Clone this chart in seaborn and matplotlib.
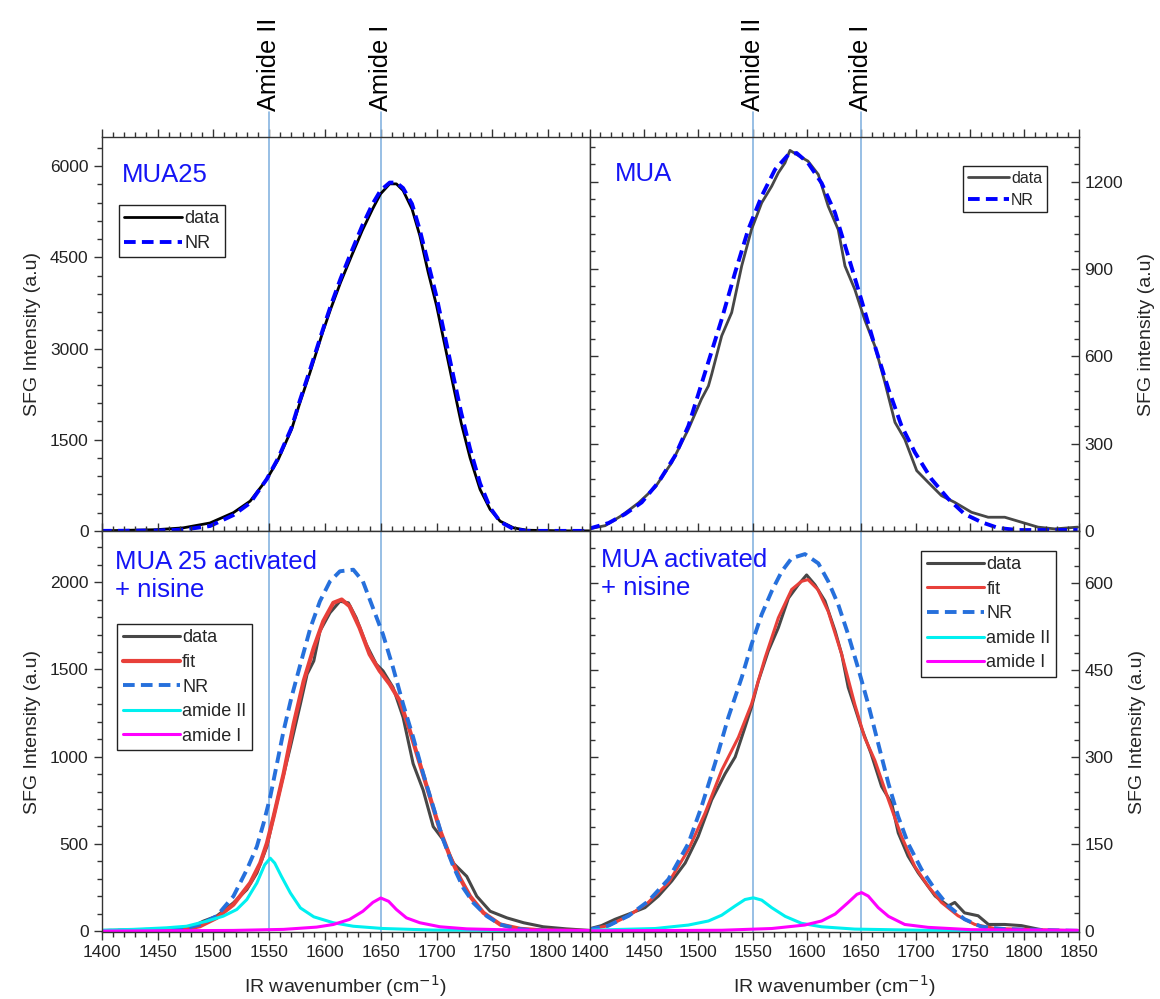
import pandas as pd
import seaborn as sns
import matplotlib.pyplot as plt
from matplotlib.ticker import MultipleLocator
import matplotlib.transforms as mtransforms

sns.set_style("ticks")
plt.rcParams['font.family'] = ['Liberation Sans', 'DejaVu Sans']

# ---- MUA25 (top left) ----
tl_data_x = [1398.5, 1449, 1473, 1497, 1518, 1533, 1547.8, 1558.2, 1570.1, 1577.6, 1586.6, 1597.9, 1605.1,
             1614, 1623.9, 1633.4, 1642.7, 1649.8, 1658, 1664, 1670, 1678, 1685, 1692.5, 1700, 1707.5,
             1715, 1722, 1730, 1739, 1748, 1757, 1769, 1781, 1816, 1837]
tl_data_y = [0, 20, 50, 130, 300, 490, 846, 1176, 1670, 2110, 2605, 3264, 3649,
             4088, 4528, 4940, 5297, 5544, 5709, 5709, 5600, 5297, 4858, 4253, 3704, 3044,
             2385, 1780, 1203, 681, 352, 159, 50, 11, 0, 0]
tl_nr_x = [1398.5, 1449, 1473, 1497, 1518, 1533, 1547.8, 1558.2, 1570.1, 1577.6, 1586.6, 1597.9, 1605.1,
           1614, 1623.9, 1633.4, 1642.7, 1649.8, 1658, 1664, 1670, 1678, 1685, 1692.5, 1700, 1707.5,
           1715, 1722, 1730, 1739, 1748, 1757, 1769, 1781, 1816, 1837]
tl_nr_y = [0, 5, 20, 80, 260, 460, 850, 1200, 1700, 2150, 2650, 3300, 3700,
           4150, 4600, 5020, 5380, 5600, 5730, 5730, 5640, 5380, 4950, 4400, 3850, 3200,
           2550, 1950, 1350, 780, 380, 150, 30, 0, 0, 0]

# ---- MUA (top right) ----
tr_data_x = [1399, 1414.4, 1429.7, 1445, 1460.4, 1475.7, 1491, 1503, 1509.4, 1512.4, 1521.6, 1530.8, 1540,
             1549, 1558.4, 1567.6, 1573.7, 1579.8, 1584.4, 1590.5, 1601, 1610.5, 1619.6, 1628.8, 1635,
             1644, 1653, 1662.5, 1671.7, 1681, 1690, 1701, 1711.5, 1723.8, 1736, 1751.4, 1766.7, 1782,
             1797.3, 1812.6, 1828, 1849]
tr_data_y = [7, 18, 53, 96, 150, 235, 350, 453, 498, 538, 670, 750, 910,
             1035, 1127, 1184, 1230, 1264, 1307, 1293, 1270, 1224, 1115, 1035, 910,
             830, 727, 635, 510, 373, 315, 207, 167, 121, 98, 64, 47, 47,
             30, 13, 7, 13]
tr_nr_x = [1399, 1417.5, 1432.8, 1448, 1463.4, 1478.7, 1491, 1506.3, 1521.6, 1533.9, 1546, 1558.4, 1570.6,
           1583, 1590.5, 1601, 1613.5, 1625.8, 1638, 1650, 1662.5, 1675, 1687, 1699.3, 1714.6, 1730,
           1745, 1760.6, 1776, 1794, 1849]
tr_nr_y = [7, 27, 58, 98, 167, 258, 361, 544, 727, 887, 1035, 1150, 1241,
           1293, 1298, 1264, 1195, 1093, 944, 795, 635, 487, 361, 270, 178, 110,
           58, 30, 10, 3, 3]

# ---- MUA 25 activated + nisine (bottom left) ----
bl_data_x = [1398.5, 1473, 1482, 1491, 1503, 1518, 1530, 1539, 1548, 1554, 1561, 1569, 1578, 1584, 1590,
             1595.5, 1604.5, 1613.4, 1621, 1628, 1637, 1646, 1652, 1661, 1670, 1679, 1688, 1697, 1706,
             1715, 1727, 1736, 1748, 1763, 1778, 1795.5, 1816, 1837]
bl_data_y = [0, 5, 28, 57, 86, 162, 238, 333, 485, 656, 846, 1055, 1302, 1473, 1549,
             1720, 1825, 1891, 1882, 1796, 1644, 1530, 1492, 1397, 1226, 960, 808, 599, 523,
             390, 314, 200, 114, 76, 48, 25, 13, 4]
bl_fit_x = [1398.5, 1473, 1488, 1503, 1518, 1533, 1542, 1548, 1554, 1563, 1572, 1581, 1590, 1598.5,
            1607.5, 1615, 1622, 1631, 1640, 1649, 1658, 1667, 1676, 1685, 1694, 1703, 1712, 1721,
            1730, 1742, 1757, 1775, 1795.5, 1837]
bl_fit_y = [0, 10, 28, 76, 152, 276, 390, 504, 656, 903, 1188, 1435, 1625, 1777,
            1882, 1901, 1863, 1739, 1587, 1492, 1416, 1321, 1150, 960, 770, 580, 428, 304,
            200, 105, 38, 13, 4, 0]
bl_nr_x = [1398.5, 1473, 1488, 1503, 1518, 1530, 1539, 1545, 1551, 1557, 1563, 1570, 1578, 1587,
           1595.5, 1604.5, 1613.4, 1625.4, 1634, 1643, 1652, 1661, 1670, 1679, 1688, 1697, 1706,
           1715, 1724, 1733, 1745, 1757, 1772, 1787, 1837]
bl_nr_y = [0, 13, 38, 86, 200, 352, 485, 618, 770, 960, 1150, 1340, 1530, 1739,
           1891, 2005, 2063, 2072, 2005, 1853, 1701, 1511, 1302, 1112, 903, 713, 523,
           371, 247, 162, 86, 38, 13, 4, 0]
bl_am2_x = [1398.5, 1428, 1458, 1476, 1494, 1509, 1521, 1530, 1539, 1546, 1551, 1555, 1561, 1569,
            1578, 1590, 1607.5, 1625.4, 1652, 1697, 1837]
bl_am2_y = [5, 10, 19, 28, 57, 86, 124, 181, 276, 380, 418, 390, 314, 219,
            133, 82, 48, 28, 15, 6, 2]
bl_am1_x = [1398.5, 1518, 1563, 1592.5, 1607.5, 1622, 1634, 1643, 1650, 1657, 1664, 1673, 1685,
            1703, 1727, 1772, 1837]
bl_am1_y = [0, 4, 10, 23, 38, 67, 114, 165, 190, 171, 124, 76, 48,
            25, 13, 6, 4]

# ---- MUA activated + nisine (bottom right) ----
br_data_x = [1399, 1411, 1423.6, 1439, 1451, 1463.4, 1475.7, 1488, 1500, 1512.4, 1524.7, 1534, 1543,
             1549, 1555.3, 1564.5, 1573.7, 1583, 1592, 1599.7, 1607.4, 1616.6, 1626, 1632, 1638, 1644,
             1650, 1659, 1668.7, 1678, 1684, 1693, 1702.4, 1718, 1730, 1736, 1745, 1757.5, 1767, 1782,
             1797.3, 1812.6, 1816]
br_data_y = [3, 9, 20, 31, 40, 60, 86, 117, 163, 226, 271, 300, 351,
             386, 431, 483, 523, 574, 597, 614, 597, 569, 517, 477, 420, 386,
             351, 306, 249, 220, 169, 129, 100, 60, 43, 49, 31, 26, 11, 11,
             9, 3, 2]
br_fit_x = [1399, 1417.5, 1436, 1454, 1472.6, 1491, 1506.3, 1521.6, 1537, 1549, 1561.5, 1573.7, 1586,
            1595, 1601, 1610, 1619.6, 1632, 1644, 1653, 1662.5, 1675, 1687, 1699.3, 1711.5, 1723.8,
            1739, 1754.4, 1773, 1849]
br_fit_y = [2, 9, 26, 49, 83, 140, 203, 277, 334, 391, 471, 540, 589,
            603, 606, 589, 551, 477, 391, 334, 294, 226, 163, 111, 77, 49,
            26, 11, 4, 0]
br_nr_x = [1399, 1417.5, 1436, 1454, 1472.6, 1491, 1503, 1515.5, 1527.8, 1540, 1549, 1558.4, 1567.6,
           1576.8, 1586, 1598.2, 1610.5, 1619.6, 1628.8, 1638, 1647, 1656.4, 1665.6, 1675, 1684, 1693,
           1705.4, 1718, 1730, 1745, 1760.6, 1782, 1849]
br_nr_y = [2, 9, 26, 51, 89, 151, 214, 289, 369, 437, 494, 546, 586,
           620, 643, 650, 634, 603, 563, 511, 454, 391, 323, 254, 197, 151,
           106, 71, 43, 20, 7, 3, 0]
br_am2_x = [1399, 1460.4, 1491, 1509.4, 1521.6, 1534, 1543, 1550.7, 1558.4, 1567.6, 1580, 1595, 1613.5,
            1644, 1705.4, 1849]
br_am2_y = [1, 4, 10, 17, 27, 43, 54, 57, 53, 40, 25, 13, 7,
            3, 1, 0]
br_am1_x = [1399, 1521.6, 1567.6, 1598, 1613.5, 1626, 1638, 1646, 1650.3, 1656.4, 1665.6, 1675, 1690,
            1711.5, 1751, 1849]
br_am1_y = [0, 1, 4, 10, 17, 29, 49, 63, 66, 60, 40, 25, 11,
            6, 2, 1]

amide_pos = [1550, 1650]
amide_names = ["Amide II", "Amide I"]

BLUE_TXT = "#1515f5"
GRAY = "#474747"
NR_TOP = "#0000ff"
NR_BOT = "#2670dc"
RED = "#e8403a"
CYAN = "#00f0f0"
MAGENTA = "#ff00ff"
VLINE = "#86b4e0"

fig = plt.figure(figsize=(11.6, 9.99), dpi=100)
lw_, rw_ = 0.42052, 0.42172
ax_tl = fig.add_axes([0.08767, 0.46797, lw_, 0.39489])
ax_tr = fig.add_axes([0.50819, 0.46797, rw_, 0.39489])
ax_bl = fig.add_axes([0.08767, 0.06707, lw_, 0.40090])
ax_br = fig.add_axes([0.50819, 0.06707, rw_, 0.40090])


def curve(ax, x, y, color, lw, label, dashed=False):
    df = pd.DataFrame({"x": x, "y": y})
    sns.lineplot(data=df, x="x", y="y", ax=ax, color=color, linewidth=lw, label=label,
                 sort=False, estimator=None)
    if dashed:
        ax.lines[-1].set_dashes((3.0, 1.6))


# vertical amide lines (drawn first, behind curves)
for ax in (ax_tl, ax_tr, ax_bl, ax_br):
    for p in amide_pos:
        ax.axvline(p, color=VLINE, lw=1.2, zorder=0)
for ax in (ax_tl, ax_tr):
    trans = mtransforms.blended_transform_factory(ax.transData, ax.transAxes)
    for p, name in zip(amide_pos, amide_names):
        ax.plot([p, p], [1.0, 1.063], transform=trans, color=VLINE, lw=1.2, clip_on=False)
        ax.text(p, 1.066, name, transform=trans, rotation=90, ha="center", va="bottom",
                fontsize=18.3, color="black")

curve(ax_tl, tl_data_x, tl_data_y, "black", 2.0, "data")
curve(ax_tl, tl_nr_x, tl_nr_y, NR_TOP, 2.8, "NR", dashed=True)

curve(ax_tr, tr_data_x, tr_data_y, GRAY, 2.0, "data")
curve(ax_tr, tr_nr_x, tr_nr_y, NR_TOP, 2.8, "NR", dashed=True)

curve(ax_bl, bl_data_x, bl_data_y, GRAY, 2.2, "data")
curve(ax_bl, bl_fit_x, bl_fit_y, RED, 3.0, "fit")
curve(ax_bl, bl_nr_x, bl_nr_y, NR_BOT, 2.8, "NR", dashed=True)
curve(ax_bl, bl_am2_x, bl_am2_y, CYAN, 2.2, "amide II")
curve(ax_bl, bl_am1_x, bl_am1_y, MAGENTA, 2.2, "amide I")

curve(ax_br, br_data_x, br_data_y, GRAY, 2.2, "data")
curve(ax_br, br_fit_x, br_fit_y, RED, 2.2, "fit")
curve(ax_br, br_nr_x, br_nr_y, NR_BOT, 2.8, "NR", dashed=True)
curve(ax_br, br_am2_x, br_am2_y, CYAN, 2.2, "amide II")
curve(ax_br, br_am1_x, br_am1_y, MAGENTA, 2.2, "amide I")

# axis limits and ticks
ax_tl.set_xlim(1400, 1837)
ax_bl.set_xlim(1400, 1837)
ax_tr.set_xlim(1400, 1850)
ax_br.set_xlim(1400, 1850)
ax_tl.set_ylim(-10, 6480)
ax_tr.set_ylim(-2, 1353)
ax_bl.set_ylim(-5, 2291)
ax_br.set_ylim(-2, 689)

ymaj = {ax_tl: (1500, 300), ax_tr: (300, 60), ax_bl: (500, 100), ax_br: (150, 30)}
for ax, (mj, mn) in ymaj.items():
    ax.yaxis.set_major_locator(MultipleLocator(mj))
    ax.yaxis.set_minor_locator(MultipleLocator(mn))
    ax.xaxis.set_major_locator(MultipleLocator(50))
    ax.xaxis.set_minor_locator(MultipleLocator(10))
    ax.tick_params(which="both", direction="out", top=True, bottom=True, left=True, right=True,
                   colors="#333333", labelcolor="#222222", labelsize=12.5, width=1.0)
    ax.tick_params(which="major", length=6)
    ax.tick_params(which="minor", length=3.5)
    for s in ax.spines.values():
        s.set_color("#333333")
        s.set_linewidth(1.0)
    ax.set_xlabel("")
    ax.set_ylabel("")

for ax in (ax_tl, ax_tr):
    ax.tick_params(labelbottom=False)
for ax in (ax_tr, ax_br):
    ax.tick_params(axis="y", which="both", direction="in", labelleft=False, labelright=True, pad=4)
    ax.yaxis.set_label_position("right")

ax_tl.set_ylabel("SFG Intensity (a.u)", fontsize=14, labelpad=6)
ax_bl.set_ylabel("SFG Intensity (a.u)", fontsize=14, labelpad=6)
ax_tr.set_ylabel("SFG intensity (a.u)", fontsize=14, labelpad=11)
ax_br.set_ylabel("SFG Intensity (a.u)", fontsize=14, labelpad=11)
ax_bl.set_xlabel("IR wavenumber (cm$^{-1}$)", fontsize=14, labelpad=9)
ax_br.set_xlabel("IR wavenumber (cm$^{-1}$)", fontsize=14, labelpad=9)

# sample names
ax_tl.text(0.041, 0.904, "MUA25", transform=ax_tl.transAxes, fontsize=18.5, color=BLUE_TXT, va="center")
ax_tr.text(0.0515, 0.907, "MUA", transform=ax_tr.transAxes, fontsize=18.5, color=BLUE_TXT, va="center")
ax_bl.text(0.027, 0.955, "MUA 25 activated\n+ nisine", transform=ax_bl.transAxes, fontsize=18.5,
           color=BLUE_TXT, va="top", linespacing=1.25)
ax_br.text(0.024, 0.96, "MUA activated\n+ nisine", transform=ax_br.transAxes, fontsize=18.5,
           color=BLUE_TXT, va="top", linespacing=1.25)

# legends
leg_kw = dict(frameon=True, fancybox=False, framealpha=1, edgecolor="#222222", borderaxespad=0,
              handletextpad=0.1, borderpad=0.3, labelspacing=0.42)
ax_tl.legend(loc="upper left", bbox_to_anchor=(0.0355, 0.828), fontsize=13, handlelength=3.2, **leg_kw)
ax_tr.legend(loc="upper right", bbox_to_anchor=(0.935, 0.926), fontsize=11.5, handlelength=2.6, **leg_kw)
ax_bl.legend(loc="upper left", bbox_to_anchor=(0.0316, 0.769), fontsize=13, handlelength=3.2, **leg_kw)
ax_br.legend(loc="upper right", bbox_to_anchor=(0.9535, 0.952), fontsize=13, handlelength=3.2, **leg_kw)
for ax in (ax_tl, ax_tr, ax_bl, ax_br):
    ax.get_legend().get_frame().set_linewidth(1.0)

fig.savefig("out.png", dpi=100)
